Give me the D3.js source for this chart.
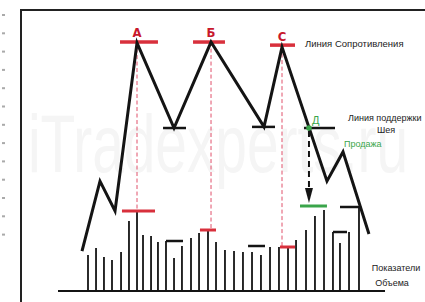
<!DOCTYPE html>
<html>
<head>
<meta charset="utf-8">
<script src="https://cdn.jsdelivr.net/npm/d3@7/dist/d3.min.js"></script>
<style>
html,body{margin:0;padding:0;background:#fff;}
svg{display:block;}
</style>
</head>
<body>
<svg id="chart" width="425" height="302"></svg>
<script>
// ---- data (time units t, price units, volume units) ----
const priceT = [2.84, 4.97, 6.75, 9.35, 13.73, 18.11, 24.38, 26.51, 31.83, 33.73, 36.80];
const priceV = [14.2, 39.1, 28.5, 88.3, 58.0, 88.6, 58.4, 86.8, 39.1, 49.5, 20.3];

const volumeT = [3.55, 4.50, 5.44, 6.39, 7.46, 8.40, 9.35, 10.06, 11.01, 11.83, 12.78, 13.73, 14.67, 15.74, 16.69, 17.75, 18.70,
  19.76, 20.83, 21.89, 22.96, 24.02, 25.09, 26.15, 27.22, 28.17, 29.35, 30.41, 31.48, 32.54, 33.37, 34.44, 35.62];
const volumeV = [36, 43, 34, 31, 39, 70, 79, 56, 55, 49, 50, 33, 45, 53, 58, 60, 49,
  41, 40, 39, 39, 36, 44, 44, 44, 51, 61, 75, 81, 59, 48, 59, 83];

const peakLabels = ["A", "Б", "C"];
const peakT = [9.35, 18.11, 26.51];
const peakLabelV = [90.5, 90.5, 88.8];
const resistT1 = [7.34, 15.98, 25.09];
const resistT2 = [11.83, 19.76, 28.05];
const resistV = [88.6, 88.6, 87.5];
const peakPriceV = [88.6, 88.6, 86.8];
const peakVolV = [80, 61, 44];
const peakVolT1 = [7.57, 16.80, 26.27];
const peakVolT2 = [11.48, 18.70, 28.05];

const supportT1 = [12.43, 22.96, 29.11];
const supportT2 = [15.15, 25.68, 32.78];
const supportV = [58.0, 58.4, 58.0];

const volMarkT1 = [12.78, 22.49, 32.54, 33.37];
const volMarkT2 = [14.79, 24.50, 34.20, 35.74];
const volMarkV = [50, 45, 59, 84];

const greenMarkT = [28.64, 31.83];
const greenMarkV = 85;
const breakT = 29.70;
const breakPriceV = 58.0;
const arrowTipVolV = 88;

const labels = {
  resistance: "Линия Сопротивления",
  support: "Линия поддержки",
  neck: "Шея",
  sell: "Продажа",
  d: "Д",
  vol1: "Показатели",
  vol2: "Объема",
  watermark: "iTradexperts.ru"
};

// ---- scales ----
const x = d3.scaleLinear().domain([0, 40]).range([58, 396]);
const yP = d3.scaleLinear().domain([0, 100]).range([291, 10]);
const yV = d3.scaleLinear().domain([0, 100]).range([291, 191]);

const svg = d3.select("#chart");
const RED = "#d8303c", GREEN = "#3aa54a", INK = "#141414";

// watermark
svg.append("text").attr("x", 28).attr("y", 172)
  .attr("font-family", "Liberation Sans, Arial, sans-serif").attr("font-size", 82)
  .attr("textLength", 380).attr("lengthAdjust", "spacingAndGlyphs")
  .attr("fill", "#f5f5f5")
  .text(labels.watermark);

// left ruler marks
svg.append("g").selectAll("rect").data(d3.range(13)).join("rect")
  .attr("x", 2).attr("y", i => 14 + i * 18.3).attr("width", 3).attr("height", 2)
  .attr("fill", "#aaa");

// frame
svg.append("path").attr("d", "M21,302V10H425").attr("fill", "none")
  .attr("stroke", "#222").attr("stroke-width", 2);

// volume baseline
svg.append("line").attr("x1", x(0)).attr("x2", x(38.7)).attr("y1", yV(0)).attr("y2", yV(0))
  .attr("stroke", INK).attr("stroke-width", 2);

// volume bars
svg.append("g").selectAll("line").data(volumeT).join("line")
  .attr("x1", d => x(d)).attr("x2", d => x(d))
  .attr("y1", yV(0)).attr("y2", (d, i) => yV(volumeV[i]))
  .attr("stroke", INK).attr("stroke-width", 1.8);

// black volume marks
svg.append("g").selectAll("line").data(volMarkT1).join("line")
  .attr("x1", d => x(d)).attr("x2", (d, i) => x(volMarkT2[i]))
  .attr("y1", (d, i) => yV(volMarkV[i])).attr("y2", (d, i) => yV(volMarkV[i]))
  .attr("stroke", INK).attr("stroke-width", 2.5);

// red dashed verticals
svg.append("g").selectAll("line").data(peakT).join("line")
  .attr("x1", d => x(d)).attr("x2", d => x(d))
  .attr("y1", (d, i) => yP(peakPriceV[i])).attr("y2", (d, i) => yV(peakVolV[i]))
  .attr("stroke", "#e0506a").attr("stroke-width", 1).attr("stroke-dasharray", "4,2.5");

// red volume marks
svg.append("g").selectAll("line").data(peakVolT1).join("line")
  .attr("x1", d => x(d)).attr("x2", (d, i) => x(peakVolT2[i]))
  .attr("y1", (d, i) => yV(peakVolV[i])).attr("y2", (d, i) => yV(peakVolV[i]))
  .attr("stroke", RED).attr("stroke-width", 3);

// green volume mark
svg.append("line").attr("x1", x(greenMarkT[0])).attr("x2", x(greenMarkT[1]))
  .attr("y1", yV(greenMarkV)).attr("y2", yV(greenMarkV))
  .attr("stroke", GREEN).attr("stroke-width", 3);

// support marks
svg.append("g").selectAll("line").data(supportT1).join("line")
  .attr("x1", d => x(d)).attr("x2", (d, i) => x(supportT2[i]))
  .attr("y1", (d, i) => yP(supportV[i])).attr("y2", (d, i) => yP(supportV[i]))
  .attr("stroke", INK).attr("stroke-width", 2.5);

// resistance marks
svg.append("g").selectAll("line").data(resistT1).join("line")
  .attr("x1", d => x(d)).attr("x2", (d, i) => x(resistT2[i]))
  .attr("y1", (d, i) => yP(resistV[i])).attr("y2", (d, i) => yP(resistV[i]))
  .attr("stroke", RED).attr("stroke-width", 3.5);

// dashed arrow
const tipY = yV(arrowTipVolV);
svg.append("line").attr("x1", x(breakT)).attr("x2", x(breakT))
  .attr("y1", yP(breakPriceV) + 3).attr("y2", tipY - 12)
  .attr("stroke", INK).attr("stroke-width", 2).attr("stroke-dasharray", "6,4");
svg.append("path")
  .attr("d", `M${x(breakT) - 4},${tipY - 15}L${x(breakT) + 4},${tipY - 15}L${x(breakT)},${tipY}Z`)
  .attr("fill", INK);

// price line
const line = d3.line().x(d => x(d[0])).y(d => yP(d[1]));
svg.append("path").datum(priceT.map((t, i) => [t, priceV[i]]))
  .attr("d", line).attr("fill", "none").attr("stroke", INK)
  .attr("stroke-width", 3).attr("stroke-linejoin", "miter");

// green breakdown dot
svg.append("circle").attr("cx", x(breakT)).attr("cy", yP(breakPriceV)).attr("r", 2.8).attr("fill", GREEN);

// peak labels
svg.append("g").selectAll("text").data(peakLabels).join("text")
  .attr("x", (d, i) => x(peakT[i])).attr("y", (d, i) => yP(peakLabelV[i]))
  .attr("text-anchor", "middle")
  .attr("font-family", "DejaVu Sans Condensed, Liberation Sans, sans-serif")
  .attr("font-weight", "bold").attr("font-size", 13).attr("fill", "#c8182c")
  .text(d => d);

// texts
const F = "Liberation Sans, Arial, sans-serif";
function txt(s, tx, ty, opts) {
  const o = Object.assign({size: 9.5, fill: "#222", anchor: "start"}, opts || {});
  svg.append("text").attr("x", tx).attr("y", ty).attr("font-family", F)
    .attr("font-size", o.size).attr("fill", o.fill).attr("text-anchor", o.anchor).text(s);
}
txt(labels.resistance, 305, 47);
txt(labels.support, 348, 121, {size: 9});
txt(labels.neck, 386, 133, {anchor: "middle", size: 9});
txt(labels.sell, 344, 147, {size: 9, fill: GREEN});
txt(labels.d, 312, 124, {size: 11, fill: GREEN});
txt(labels.vol1, 396, 271, {anchor: "middle", size: 9});
txt(labels.vol2, 392, 286, {anchor: "middle", size: 9});
</script>
</body>
</html>
